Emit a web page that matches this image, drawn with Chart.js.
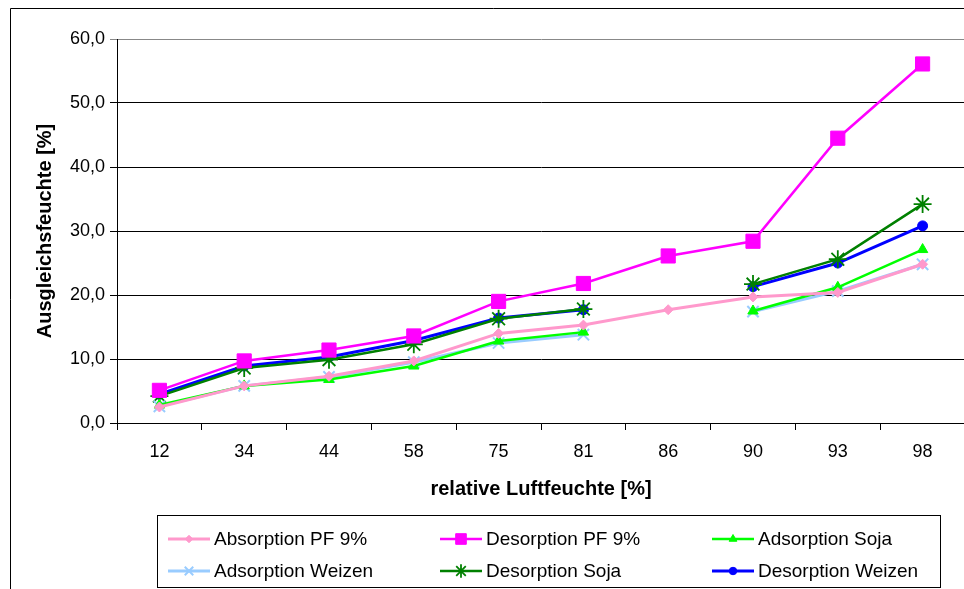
<!DOCTYPE html>
<html>
<head>
<meta charset="utf-8">
<script src="https://cdn.jsdelivr.net/npm/chart.js@4/dist/chart.umd.min.js"></script>
<style>
  html, body { margin: 0; padding: 0; background: #fff; overflow: hidden; }
  canvas { display: block; }
</style>
</head>
<body>
<canvas id="myChart" width="976" height="589"></canvas>
<script>
// Kategorien (relative Luftfeuchte)
var xValues = ["12", "34", "44", "58", "75", "81", "86", "90", "93", "98"];

// Serien (Ausgleichsfeuchte in %)
var absorptionPF = [2.5, 5.8, 7.3, 9.7, 14.0, 15.3, 17.7, 19.7, 20.4, 24.8];
var desorptionPF = [5.1, 9.7, 11.4, 13.6, 19.0, 21.8, 26.1, 28.4, 44.5, 56.1];
var adsorptionSoja = [2.8, 5.8, 6.8, 8.9, 12.8, 14.2, null, 17.5, 21.2, 27.1];
var adsorptionWeizen = [2.6, 5.8, 7.2, 9.5, 12.5, 13.8, null, 17.4, 20.6, 24.8];
var desorptionSoja = [4.2, 8.6, 9.9, 12.3, 16.3, 17.8, null, 21.7, 25.6, 34.2];
var desorptionWeizen = [4.5, 8.9, 10.3, 12.9, 16.4, 17.7, null, 21.3, 25.0, 30.8];

var yTicks = [0, 10, 20, 30, 40, 50, 60];

var font = "'Liberation Sans', Arial, sans-serif";

// Legende im Kasten, 3 Spalten x 2 Zeilen
var legendBox = {
  id: "legendBox",
  afterDraw: function (chart) {
    var ctx = chart.ctx;
    ctx.save();
    // Rahmen aussen
    ctx.strokeStyle = "#000";
    ctx.lineWidth = 1;
    ctx.beginPath();
    ctx.moveTo(10.5, 600);
    ctx.lineTo(10.5, 8.5);
    ctx.lineTo(980, 8.5);
    ctx.stroke();
    // Legendenkasten
    ctx.strokeRect(157.5, 515.5, 783, 72);
    var cols = [168, 440, 712];
    var rows = [539, 571];
    ctx.font = "19px " + font;
    ctx.textBaseline = "middle";
    chart.data.datasets.forEach(function (ds, i) {
      var x = cols[i % 3];
      var y = rows[Math.floor(i / 3)];
      ctx.strokeStyle = ds.borderColor;
      ctx.lineWidth = ds.borderWidth;
      ctx.beginPath();
      ctx.moveTo(x, y);
      ctx.lineTo(x + 42, y);
      ctx.stroke();
      ctx.fillStyle = ds.pointBackgroundColor;
      ctx.strokeStyle = ds.pointBorderColor;
      ctx.lineWidth = ds.pointBorderWidth;
      Chart.helpers.drawPoint(ctx, {
        pointStyle: ds.pointStyle,
        radius: ds.pointRadius * 0.75,
        borderWidth: ds.pointBorderWidth,
        rotation: 0
      }, x + 21, y);
      ctx.fillStyle = "#000";
      ctx.fillText(ds.label, x + 46, y + 1);
    });
    ctx.restore();
  }
};

function series(label, data, color, style, radius, width, pw) {
  return {
    label: label,
    data: data,
    borderColor: color,
    backgroundColor: color,
    pointBackgroundColor: color,
    pointBorderColor: color,
    pointStyle: style,
    pointRadius: radius,
    pointHoverRadius: radius,
    pointBorderWidth: pw,
    borderWidth: width,
    spanGaps: false,
    tension: 0
  };
}

new Chart("myChart", {
  type: "line",
  data: {
    labels: xValues,
    datasets: [
      series("Absorption PF 9%", absorptionPF, "#FF99CC", "rectRot", 5, 3, 1),
      series("Desorption PF 9%", desorptionPF, "#FF00FF", "rect", 10, 2.5, 1),
      series("Adsorption Soja", adsorptionSoja, "#00FF00", "triangle", 6, 2.5, 1),
      series("Adsorption Weizen", adsorptionWeizen, "#99CCFF", "crossRot", 8, 3, 2),
      series("Desorption Soja", desorptionSoja, "#008000", "star", 9, 2.5, 1.8),
      series("Desorption Weizen", desorptionWeizen, "#0000FF", "circle", 5, 3, 1)
    ]
  },
  plugins: [legendBox],
  options: {
    responsive: false,
    animation: false,
    layout: { padding: { top: 39, right: 0, left: 0, bottom: 0 } },
    plugins: {
      legend: { display: false },
      tooltip: { enabled: false },
      title: { display: false }
    },
    scales: {
      x: {
        offset: true,
        afterFit: function (s) { s.height = 166; },
        border: { color: "#000", width: 1 },
        grid: {
          offset: true,
          drawOnChartArea: false,
          drawTicks: true,
          tickLength: 7,
          color: "#000"
        },
        ticks: {
          color: "#000",
          padding: 11,
          maxRotation: 0,
          font: { family: font, size: 18 }
        },
        title: {
          display: true,
          text: "relative Luftfeuchte [%]",
          color: "#000",
          font: { family: font, size: 20, weight: "bold" },
          padding: { top: 0, bottom: 88 }
        }
      },
      y: {
        min: 0,
        max: 60,
        afterFit: function (s) { s.width = 117; },
        afterBuildTicks: function (s) {
          s.ticks = yTicks.map(function (v) { return { value: v }; });
        },
        border: { color: "#000", width: 1 },
        grid: {
          color: function (c) { return c.tick && c.tick.value === 60 ? "#888" : "#000"; },
          lineWidth: 1,
          drawTicks: true,
          tickLength: 7
        },
        ticks: {
          color: "#000",
          padding: 5,
          font: { family: font, size: 18 },
          callback: function (v) { return v.toFixed(1).replace(".", ","); }
        },
        title: {
          display: true,
          text: "Ausgleichsfeuchte [%]",
          color: "#000",
          font: { family: font, size: 20, weight: "bold" },
          padding: { top: 33, bottom: 0 }
        }
      }
    }
  }
});
</script>
</body>
</html>
